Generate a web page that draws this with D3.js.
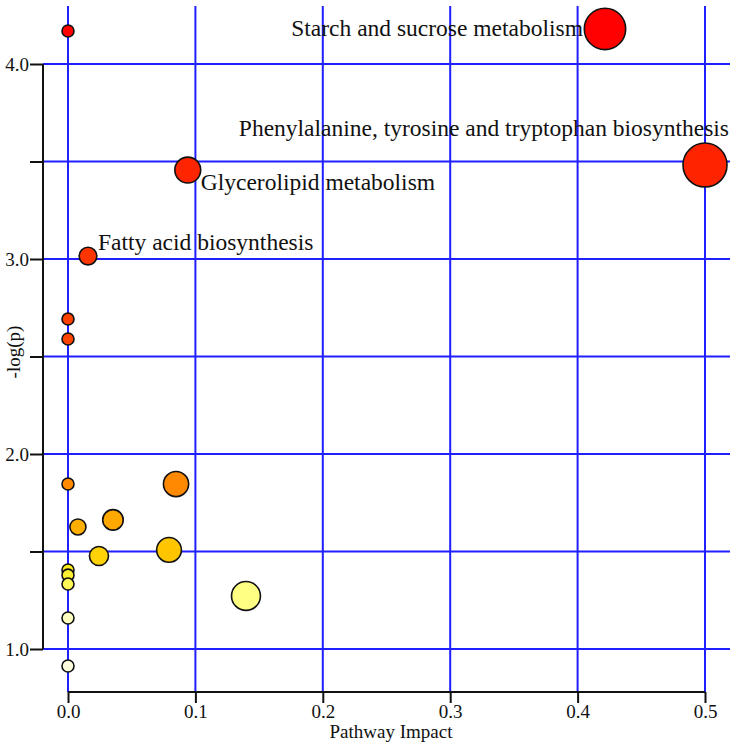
<!DOCTYPE html>
<html>
<head>
<meta charset="utf-8">
<script src="https://cdn.jsdelivr.net/npm/d3@7"></script>
<style>
  body { margin: 0; background: #fff; }
  text { font-family: "Liberation Serif", "Times New Roman", serif; fill: #111; }
</style>
</head>
<body>
<svg width="735" height="747"></svg>
<script>
// pathway impact (x) and -log(p) (y) for each pathway
const impact = [0, 0.4215, 0.5, 0.094, 0.0157, 0, 0, 0, 0.0848, 0.0353, 0.0078, 0.0243, 0.0793, 0, 0, 0, 0.1397, 0, 0];
const logp = [4.169, 4.18, 3.482, 3.456, 3.015, 2.692, 2.59, 1.846, 1.846, 1.662, 1.626, 1.477, 1.508, 1.405, 1.379, 1.333, 1.272, 1.159, 0.913];
const names = ["", "Starch and sucrose metabolism", "Phenylalanine, tyrosine and tryptophan biosynthesis",
  "Glycerolipid metabolism", "Fatty acid biosynthesis", "", "", "", "", "", "", "", "", "", "", "", "", "", ""];
// label placement: anchor and offsets from the circle
const labelAnchor = ["", "end", "end", "start", "start"];
const labelDx = [0, -22, 24, 13, 10];
const labelDy = [0, 7, -29, 20, -6];

const xTicks = [0, 0.1, 0.2, 0.3, 0.4, 0.5];
const yTicks = [1.0, 1.5, 2.0, 2.5, 3.0, 3.5, 4.0];
const yLabels = [1.0, 2.0, 3.0, 4.0];

const svg = d3.select("svg");

const x = d3.scaleLinear().domain([0, 0.5]).range([68, 705]);
const y = d3.scaleLinear().domain([1, 4]).range([649, 64]);
const r = d3.scaleSqrt().domain([0, 0.5]).range([6, 22]);
const color = d3.scaleLinear()
  .domain([0.9, 1.16, 1.28, 1.4, 1.5, 1.66, 1.85, 2.6, 3.4, 4.2])
  .range(["#ffffe0", "#ffffc0", "#ffff80", "#ffee20", "#ffc800", "#ffa800", "#ff8800", "#ff4400", "#ff2800", "#ff0000"])
  .clamp(true);

const gridColor = "#1f1fff";

// vertical gridlines
svg.append("g")
  .selectAll("line")
  .data(xTicks)
  .enter()
  .append("line")
  .attr("x1", (d) => x(d))
  .attr("x2", (d) => x(d))
  .attr("y1", 6)
  .attr("y2", 692)
  .attr("stroke", gridColor)
  .attr("stroke-width", 2);

// horizontal gridlines
svg.append("g")
  .selectAll("line")
  .data(yTicks)
  .enter()
  .append("line")
  .attr("x1", 43)
  .attr("x2", 730)
  .attr("y1", (d) => y(d))
  .attr("y2", (d) => y(d))
  .attr("stroke", gridColor)
  .attr("stroke-width", 2);

// left axis
const yAxis = d3.axisLeft(y)
  .tickValues(yTicks)
  .tickSize(13)
  .tickPadding(1)
  .tickFormat((d) => (yLabels.includes(d) ? d3.format(".1f")(d) : ""));
const ga = svg.append("g")
  .attr("transform", "translate(43,0)")
  .call(yAxis);
ga.select(".domain").attr("d", `M0,${y(4)}V${y(1)}`).attr("stroke", "#111").attr("stroke-width", 2);
ga.selectAll(".tick line").attr("stroke", "#111").attr("stroke-width", 2);
ga.selectAll(".tick text")
  .attr("font-size", 19)
  .attr("font-family", "Liberation Serif")
  .attr("fill", "#111");

// bottom axis
const xAxis = d3.axisBottom(x)
  .tickValues(xTicks)
  .tickSize(11)
  .tickPadding(2)
  .tickFormat(d3.format(".1f"));
const gb = svg.append("g")
  .attr("transform", "translate(0,692)")
  .call(xAxis);
gb.select(".domain").attr("d", `M${x(0)},0H${x(0.5)}`).attr("stroke", "#111").attr("stroke-width", 2);
gb.selectAll(".tick line").attr("stroke", "#111").attr("stroke-width", 2);
gb.selectAll(".tick text")
  .attr("font-size", 19)
  .attr("font-family", "Liberation Serif")
  .attr("fill", "#111");

// axis titles
svg.append("text")
  .attr("x", 391)
  .attr("y", 738)
  .attr("text-anchor", "middle")
  .attr("font-size", 19)
  .text("Pathway Impact");

svg.append("text")
  .attr("transform", "translate(20,352) rotate(-90)")
  .attr("text-anchor", "middle")
  .attr("font-size", 19)
  .text("-log(p)");

// points
const points = impact.map((d, i) => ({ x: d, y: logp[i], name: names[i], i: i }));

svg.append("g")
  .selectAll("circle")
  .data(points)
  .enter()
  .append("circle")
  .attr("cx", (d) => x(d.x))
  .attr("cy", (d) => y(d.y))
  .attr("r", (d) => r(d.x))
  .attr("fill", (d) => color(d.y))
  .attr("stroke", "#111")
  .attr("stroke-width", 1.6);

// labels
svg.append("g")
  .selectAll("text")
  .data(points.filter((d) => d.name))
  .enter()
  .append("text")
  .attr("x", (d) => x(d.x) + labelDx[d.i])
  .attr("y", (d) => y(d.y) + labelDy[d.i])
  .attr("text-anchor", (d) => labelAnchor[d.i])
  .attr("font-size", 23.5)
  .text((d) => d.name);
</script>
</body>
</html>
